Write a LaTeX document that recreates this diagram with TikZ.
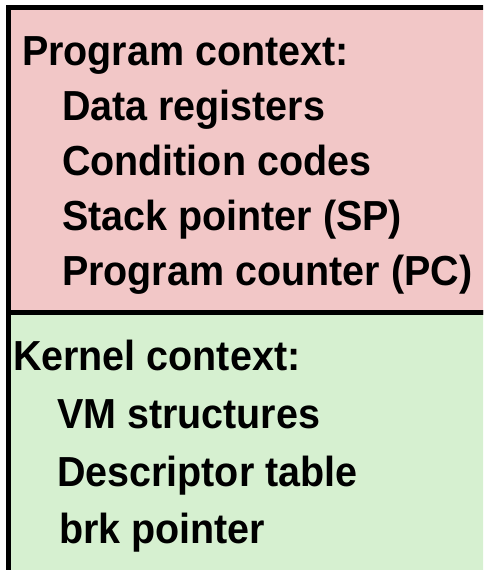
\documentclass[tikz,border=0pt]{standalone}
\usepackage{fontspec}
\usepackage{graphicx}
\setmainfont{Liberation Sans}
\definecolor{pinkbox}{RGB}{242,199,199}
\definecolor{greenbox}{RGB}{214,240,208}
\tikzset{
  ctx/.style={draw=black, line width=5pt},
  lbl/.style={anchor=base west, inner sep=0pt, outer sep=0pt, font=\fontsize{42}{50}\selectfont\bfseries}
}
\newcommand{\sq}[1]{\scalebox{0.94}[1]{#1}}
\begin{document}
\begin{tikzpicture}[x=1pt,y=-1pt]
\useasboundingbox (0,0) rectangle (483,570);
\clip (0,0) rectangle (483,570);
\draw[ctx, fill=pinkbox] (8.5,7.5) rectangle (495,312.5);
\draw[ctx, fill=greenbox] (8.5,312.5) rectangle (495,572);
\node[lbl] (pc) at (22,65) {\sq{Program context:}};
\node[lbl] (dr) at (62,120) {\sq{Data registers}};
\node[lbl] (cc) at (62,175) {\sq{Condition codes}};
\node[lbl] (sp) at (62,230) {\sq{Stack pointer (SP)}};
\node[lbl] (pcn) at (62,285) {\sq{Program counter (PC)}};
\node[lbl] (kc) at (13,370) {\sq{Kernel context:}};
\node[lbl] (vm) at (57,428) {\sq{VM structures}};
\node[lbl] (dt) at (57,486) {\sq{Descriptor table}};
\node[lbl] (brk) at (59,543) {\sq{brk pointer}};
\end{tikzpicture}
\end{document}
